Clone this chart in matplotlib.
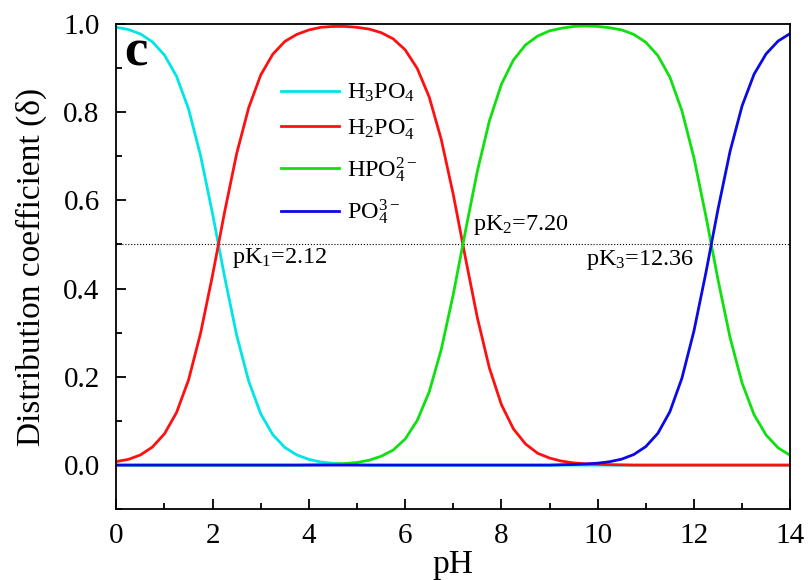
import matplotlib
matplotlib.use('Agg')
import matplotlib.pyplot as plt
from matplotlib.ticker import MultipleLocator

plt.rcParams['font.family'] = ['Liberation Serif', 'DejaVu Serif']
plt.rcParams['mathtext.fontset'] = 'custom'
plt.rcParams['mathtext.rm'] = 'Liberation Serif'
plt.rcParams['mathtext.it'] = 'Liberation Serif:italic'

# distribution fractions, pH step 0.25
ph = [i * 0.25 for i in range(57)]
h3po4 = [0.992, 0.987, 0.977, 0.959, 0.929, 0.881, 0.807, 0.701, 0.569, 0.426,
         0.294, 0.190, 0.116, 0.069, 0.040, 0.023, 0.013, 0.007, 0.004, 0.002,
         0.001] + [0.0] * 36
h2po4 = [0.008, 0.013, 0.023, 0.041, 0.071, 0.119, 0.193, 0.299, 0.431, 0.574,
         0.706, 0.810, 0.884, 0.931, 0.960, 0.976, 0.986, 0.992, 0.994, 0.994,
         0.992, 0.988, 0.980, 0.966, 0.941, 0.899, 0.834, 0.738, 0.613, 0.471,
         0.334, 0.220, 0.137, 0.082, 0.048, 0.027, 0.016, 0.009, 0.005, 0.003,
         0.002, 0.001, 0.0005] + [0.0] * 14
hpo4 = [0.0] * 16 + [0.0006, 0.001, 0.002, 0.0035, 0.006, 0.011, 0.020, 0.034,
         0.059, 0.101, 0.166, 0.262, 0.387, 0.529, 0.666, 0.780, 0.863, 0.918,
         0.952, 0.972, 0.984, 0.990, 0.994, 0.995, 0.994, 0.991, 0.986, 0.976,
         0.958, 0.928, 0.879, 0.803, 0.696, 0.563, 0.420, 0.289, 0.186, 0.114,
         0.068, 0.039, 0.022]
po4 = [0.0] * 37 + [0.0008, 0.0014, 0.0024, 0.0044, 0.0077, 0.0136, 0.024,
        0.042, 0.072, 0.121, 0.197, 0.304, 0.437, 0.580, 0.711, 0.814, 0.886,
        0.932, 0.961, 0.978]

pk_labels = ['pK$_1$=2.12', 'pK$_2$=7.20', 'pK$_3$=12.36']
pk_pos = [(2.4, 0.47), (7.4, 0.545), (9.75, 0.465)]

fig = plt.figure(figsize=(8.08, 5.8), dpi=100)
ax = fig.add_axes([0.144, 0.122, 0.834, 0.837])

ax.axhline(0.5, color='black', lw=0.8, ls=':')
ax.plot(ph, h3po4, color='#00e5e5', lw=2, label='H$_3$PO$_4$')
ax.plot(ph, h2po4, color='#ff1010', lw=2, label='H$_2$PO$_4^{-}$')
ax.plot(ph, hpo4, color='#10e010', lw=2, label='HPO$_4^{2-}$')
ax.plot(ph, po4, color='#0a0ae6', lw=2, label='PO$_4^{3-}$')

for txt, (x, y) in zip(pk_labels, pk_pos):
    ax.text(x, y, txt, fontsize=17.5, va='center', ha='left')

ax.text(0.012, 0.99, 'c', transform=ax.transAxes, fontsize=38,
        fontweight='bold', va='top', ha='left')

ax.set_xlim(0, 14)
ax.set_ylim(-0.1, 1.0)
ax.xaxis.set_major_locator(MultipleLocator(2))
ax.xaxis.set_minor_locator(MultipleLocator(1))
ax.yaxis.set_minor_locator(MultipleLocator(0.1))
ax.set_yticks([0.0, 0.2, 0.4, 0.6, 0.8, 1.0])
ax.set_yticklabels(['0.0', '0.2', '0.4', '0.6', '0.8', '1.0'])
ax.tick_params(which='both', direction='in', labelsize=21, width=1.3,
               top=False, right=False)
ax.tick_params(axis='y', which='major', pad=12)
ax.tick_params(axis='x', which='major', pad=10)
ax.tick_params(which='major', length=7)
ax.tick_params(which='minor', length=4)
for s in ax.spines.values():
    s.set_linewidth(1.3)

ax.set_xlabel('pH', fontsize=24, labelpad=0)
ax.set_ylabel('Distribution coefficient (δ)', fontsize=24, labelpad=12)

ax.legend(loc='upper left', bbox_to_anchor=(0.212, 0.925), frameon=False,
          fontsize=17.5, handlelength=2.4, handletextpad=0.3,
          labelspacing=0.55)

fig.savefig('out.png', dpi=100)
